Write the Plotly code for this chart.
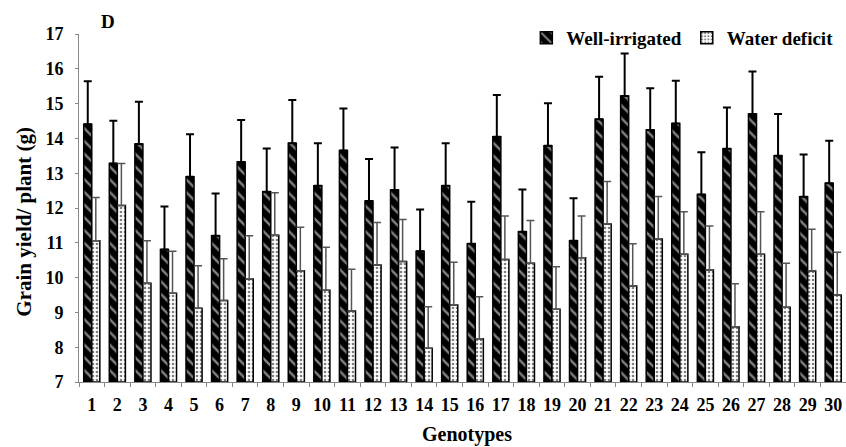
import plotly.graph_objects as go

# Genotype numbers
genotypes = list(range(1, 31))

# Mean grain yield per plant (g)
well_irrigated = [14.41, 13.28, 13.84, 10.81, 12.90, 11.20, 13.32, 12.47, 13.86, 12.64,
                  13.65, 12.20, 12.52, 10.76, 12.64, 10.97, 14.05, 11.32, 13.79, 11.06,
                  14.55, 15.22, 14.24, 14.43, 12.39, 13.70, 14.70, 13.50, 12.32, 12.71]
water_deficit = [11.06, 12.07, 9.84, 9.55, 9.12, 9.34, 9.96, 11.22, 10.20, 9.64,
                 9.04, 10.36, 10.46, 7.97, 9.21, 8.24, 10.52, 10.41, 9.09, 10.57,
                 11.54, 9.76, 11.11, 10.67, 10.22, 8.59, 10.67, 9.15, 10.19, 9.50]

# Standard deviations (upper error bars)
sd_well = [1.23, 1.23, 1.21, 1.23, 1.22, 1.22, 1.21, 1.24, 1.24, 1.22,
           1.21, 1.21, 1.22, 1.20, 1.22, 1.21, 1.20, 1.21, 1.22, 1.22,
           1.22, 1.22, 1.20, 1.23, 1.21, 1.19, 1.22, 1.20, 1.22, 1.22]
sd_deficit = [1.24, 1.21, 1.22, 1.21, 1.22, 1.20, 1.24, 1.22, 1.25, 1.23,
              1.20, 1.22, 1.21, 1.19, 1.23, 1.21, 1.25, 1.23, 1.22, 1.20,
              1.22, 1.21, 1.22, 1.22, 1.26, 1.23, 1.22, 1.26, 1.20, 1.23]

SERIF = "Liberation Serif"

fig = go.Figure()
fig.add_trace(go.Bar(
    x=genotypes, y=[v - 7 for v in well_irrigated], base=7,
    name="Well-irrigated",
    marker=dict(color="black", line=dict(color="black", width=1.5),
                pattern=dict(shape="\\", fgcolor="white", bgcolor="black",
                             size=9, solidity=0.28)),
    error_y=dict(type="data", symmetric=False, array=sd_well,
                 arrayminus=[0] * len(sd_well), color="black", thickness=2, width=4),
))
fig.add_trace(go.Bar(
    x=genotypes, y=[v - 7 for v in water_deficit], base=7,
    name="Water deficit",
    marker=dict(color="white", line=dict(color="black", width=1.5),
                pattern=dict(shape=".", fgcolor="black", bgcolor="white",
                             size=4, solidity=0.35)),
    error_y=dict(type="data", symmetric=False, array=sd_deficit,
                 arrayminus=[0] * len(sd_deficit), color="#555555", thickness=1.5, width=4),
))

fig.update_layout(
    width=846, height=447,
    margin=dict(l=79, r=0, t=34, b=65),
    paper_bgcolor="white", plot_bgcolor="white",
    barmode="group", bargap=0.37, bargroupgap=0.0,
    font=dict(family=SERIF, color="black", size=16, weight="bold"),
    showlegend=True,
    legend=dict(orientation="h", x=0.99, xanchor="right", y=0.9885, yanchor="middle",
                font=dict(family=SERIF, size=19, weight="bold"),
                itemwidth=30, traceorder="normal", bgcolor="rgba(0,0,0,0)"),
    annotations=[
        dict(text="D", xref="paper", yref="paper", x=0.038, y=1.037,
             xanchor="center", yanchor="middle", showarrow=False,
             font=dict(family=SERIF, size=19, weight="bold")),
        dict(text="Grain yield/ plant (g)", xref="paper", yref="paper",
             x=-0.072, y=0.46, textangle=-90, xanchor="center", yanchor="middle",
             showarrow=False, font=dict(family=SERIF, size=21, weight="bold")),
        dict(text="Genotypes", xref="paper", yref="paper",
             x=0.506, y=-0.152, xanchor="center", yanchor="middle",
             showarrow=False, font=dict(family=SERIF, size=20, weight="bold")),
    ],
)

fig.update_xaxes(
    range=[0.5, 30.5], tickvals=genotypes, ticktext=[str(g) for g in genotypes],
    ticks="", ticklabelstandoff=6,
    tickfont=dict(family=SERIF, size=18, weight="bold"),
    showgrid=False, zeroline=False, showline=True, linecolor="#888888", linewidth=1,
    minor=dict(tick0=0.5, dtick=1, ticks="outside", ticklen=4, tickcolor="#888888"),
)
fig.update_yaxes(
    range=[7, 17], dtick=1, ticks="outside", ticklen=3, tickcolor="#888888",
    ticklabelstandoff=8,
    tickfont=dict(family=SERIF, size=18, weight="bold"),
    showgrid=False, zeroline=False, showline=True, linecolor="#888888", linewidth=1,
)

fig.write_html("out.html")
